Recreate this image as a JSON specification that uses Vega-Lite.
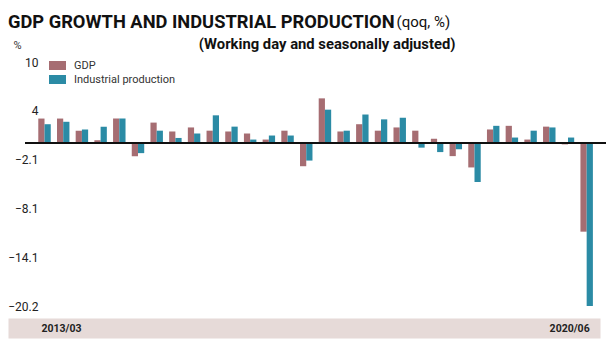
{
  "$schema": "https://vega.github.io/schema/vega-lite/v6.json",
  "width": 592,
  "height": 244,
  "autosize": {"type": "none"},
  "padding": {"left": 8, "top": 62, "right": 7, "bottom": 45},
  "background": "white",
  "title": {
    "text": "GDP GROWTH AND INDUSTRIAL PRODUCTION",
    "anchor": "start",
    "frame": "group",
    "font": "Roboto",
    "fontWeight": "bold",
    "fontSize": 18.3,
    "color": "#111111",
    "dy": 22
  },
  "data": {
    "values": [
      {"q": "2013/03", "series": "GDP", "v": 3.0}, {"q": "2013/03", "series": "Industrial production", "v": 2.3},
      {"q": "2013/06", "series": "GDP", "v": 3.0}, {"q": "2013/06", "series": "Industrial production", "v": 2.6},
      {"q": "2013/09", "series": "GDP", "v": 1.5}, {"q": "2013/09", "series": "Industrial production", "v": 1.65},
      {"q": "2013/12", "series": "GDP", "v": 0.3}, {"q": "2013/12", "series": "Industrial production", "v": 2.0},
      {"q": "2014/03", "series": "GDP", "v": 3.0}, {"q": "2014/03", "series": "Industrial production", "v": 3.0},
      {"q": "2014/06", "series": "GDP", "v": -1.65}, {"q": "2014/06", "series": "Industrial production", "v": -1.28},
      {"q": "2014/09", "series": "GDP", "v": 2.5}, {"q": "2014/09", "series": "Industrial production", "v": 1.5},
      {"q": "2014/12", "series": "GDP", "v": 1.4}, {"q": "2014/12", "series": "Industrial production", "v": 0.6},
      {"q": "2015/03", "series": "GDP", "v": 1.9}, {"q": "2015/03", "series": "Industrial production", "v": 1.15},
      {"q": "2015/06", "series": "GDP", "v": 1.5}, {"q": "2015/06", "series": "Industrial production", "v": 3.4},
      {"q": "2015/09", "series": "GDP", "v": 1.4}, {"q": "2015/09", "series": "Industrial production", "v": 2.0},
      {"q": "2015/12", "series": "GDP", "v": 1.15}, {"q": "2015/12", "series": "Industrial production", "v": 0.4},
      {"q": "2016/03", "series": "GDP", "v": 0.4}, {"q": "2016/03", "series": "Industrial production", "v": 0.9},
      {"q": "2016/06", "series": "GDP", "v": 1.5}, {"q": "2016/06", "series": "Industrial production", "v": 0.9},
      {"q": "2016/09", "series": "GDP", "v": -2.9}, {"q": "2016/09", "series": "Industrial production", "v": -2.2},
      {"q": "2016/12", "series": "GDP", "v": 5.5}, {"q": "2016/12", "series": "Industrial production", "v": 4.1},
      {"q": "2017/03", "series": "GDP", "v": 1.4}, {"q": "2017/03", "series": "Industrial production", "v": 1.5},
      {"q": "2017/06", "series": "GDP", "v": 2.3}, {"q": "2017/06", "series": "Industrial production", "v": 3.5},
      {"q": "2017/09", "series": "GDP", "v": 1.5}, {"q": "2017/09", "series": "Industrial production", "v": 2.9},
      {"q": "2017/12", "series": "GDP", "v": 1.9}, {"q": "2017/12", "series": "Industrial production", "v": 3.1},
      {"q": "2018/03", "series": "GDP", "v": 1.5}, {"q": "2018/03", "series": "Industrial production", "v": -0.6},
      {"q": "2018/06", "series": "GDP", "v": 0.5}, {"q": "2018/06", "series": "Industrial production", "v": -1.15},
      {"q": "2018/09", "series": "GDP", "v": -1.65}, {"q": "2018/09", "series": "Industrial production", "v": -0.8},
      {"q": "2018/12", "series": "GDP", "v": -3.05}, {"q": "2018/12", "series": "Industrial production", "v": -4.85},
      {"q": "2019/03", "series": "GDP", "v": 1.65}, {"q": "2019/03", "series": "Industrial production", "v": 2.1},
      {"q": "2019/06", "series": "GDP", "v": 2.1}, {"q": "2019/06", "series": "Industrial production", "v": 0.65},
      {"q": "2019/09", "series": "GDP", "v": 0.4}, {"q": "2019/09", "series": "Industrial production", "v": 1.5},
      {"q": "2019/12", "series": "GDP", "v": 2.0}, {"q": "2019/12", "series": "Industrial production", "v": 1.9},
      {"q": "2020/03", "series": "GDP", "v": -0.2}, {"q": "2020/03", "series": "Industrial production", "v": 0.65},
      {"q": "2020/06", "series": "GDP", "v": -11.0}, {"q": "2020/06", "series": "Industrial production", "v": -20.2}
    ]
  },
  "layer": [
    {
      "mark": {"type": "bar"},
      "encoding": {
        "x": {
          "field": "q",
          "type": "ordinal",
          "sort": null,
          "scale": {"paddingInner": 0.3333, "paddingOuter": 1.611, "align": 0.81},
          "axis": {
            "orient": "bottom",
            "title": null,
            "labels": false,
            "domainColor": "#e6dad8",
            "domainWidth": 20,
            "domainCap": "butt",
            "offset": 22,
            "ticks": false,
            "grid": false,
            "zindex": 0
          }
        },
        "xOffset": {
          "field": "series",
          "type": "nominal",
          "sort": ["GDP", "Industrial production"],
          "scale": {"paddingInner": 0, "paddingOuter": 0}
        },
        "y": {
          "field": "v",
          "type": "quantitative",
          "scale": {"domain": [-20.2, 10], "nice": false, "zero": false},
          "axis": {
            "orient": "left",
            "title": "%",
            "titleAngle": 0,
            "titleX": 9,
            "titleY": -17,
            "titleAlign": "center",
            "titleBaseline": "middle",
            "titleFont": "Roboto",
            "titleFontWeight": "normal",
            "titleFontSize": 11,
            "titleColor": "#333333",
            "values": [10, 3.96, -2.08, -8.12, -14.16, -20.2],
            "labelExpr": "datum.value > 9 ? '10' : datum.value > 3 ? '4' : datum.value > -3 ? '\u22122.1' : datum.value > -9 ? '\u22128.1' : datum.value > -15 ? '\u221214.1' : '\u221220.2'",
            "domain": false,
            "ticks": false,
            "tickSize": 0,
            "labelPadding": -30,
            "labelAlign": "right",
            "labelBaseline": "middle",
            "labelFont": "Roboto",
            "labelFontSize": 12,
            "labelColor": "#222222",
            "grid": false
          }
        },
        "color": {
          "field": "series",
          "type": "nominal",
          "scale": {"domain": ["GDP", "Industrial production"], "range": ["#a66d72", "#2b8ba5"]},
          "legend": {
            "orient": "none",
            "legendX": 41,
            "legendY": -5,
            "title": null,
            "symbolType": "M-1,-0.53H1V0.53H-1Z",
            "symbolSize": 289,
            "symbolStrokeWidth": 0,
            "symbolOpacity": 1,
            "labelFont": "Roboto",
            "labelFontSize": 11,
            "labelColor": "#333333",
            "labelOffset": 8,
            "rowPadding": -7
          }
        }
      }
    },
    {
      "mark": {"type": "rule", "color": "#111111", "strokeWidth": 1.3, "xOffset": -13, "x2Offset": 13},
      "encoding": {
        "x": {
          "datum": "2013/03",
          "type": "ordinal",
          "bandPosition": 0,
          "axis": {
            "orient": "top",
            "title": "(Working day and seasonally adjusted)",
            "titleX": 447,
            "titleY": -18,
            "titleAlign": "right",
            "titleBaseline": "middle",
            "titleFont": "Roboto",
            "titleFontWeight": "bold",
            "titleFontSize": 14.8,
            "titleColor": "#111111",
            "labels": false,
            "ticks": false,
            "domain": false,
            "grid": false
          }
        },
        "x2": {"datum": "2020/06", "bandPosition": 1},
        "y": {
          "datum": 0,
          "type": "quantitative",
          "axis": {
            "orient": "right",
            "title": "(qoq, %)",
            "titleAngle": 0,
            "titleX": -204,
            "titleY": -36,
            "titleAlign": "left",
            "titleBaseline": "alphabetic",
            "titleFont": "Roboto",
            "titleFontWeight": "normal",
            "titleFontSize": 15,
            "titleColor": "#111111",
            "labels": false,
            "ticks": false,
            "domain": false,
            "grid": false
          }
        }
      }
    },
    {
      "mark": {"type": "rule", "strokeOpacity": 0},
      "encoding": {
        "x": {
          "datum": "2013/03",
          "type": "ordinal",
          "axis": {
            "orient": "bottom",
            "title": null,
            "values": ["2013/03", "2020/06"],
            "domain": false,
            "offset": 22,
            "ticks": false,
            "tickSize": 0,
            "labelPadding": 0,
            "labelBaseline": "middle",
            "labelAngle": 0,
            "labelFont": "Roboto",
            "labelFontWeight": "bold",
            "labelFontSize": 10.5,
            "labelColor": "#222222",
            "labelFlush": 100,
            "labelFlushOffset": 3,
            "labelOffset": 0,
            "grid": false,
            "zindex": 2
          }
        }
      }
    }
  ],
  "resolve": {"axis": {"x": "independent", "y": "independent"}},
  "config": {
    "font": "Roboto",
    "view": {"stroke": null}
  }
}
